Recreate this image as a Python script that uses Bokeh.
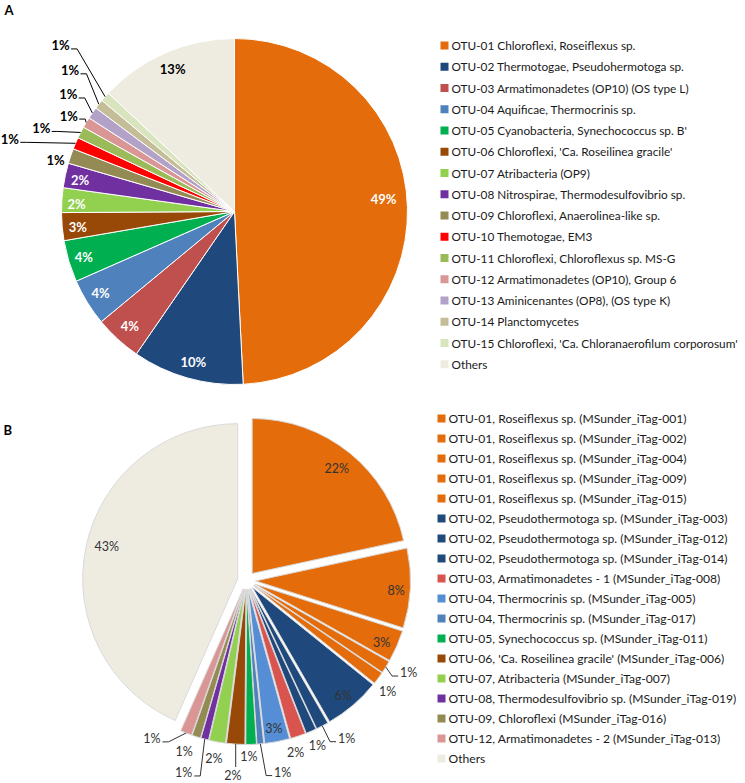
import math
from bokeh.plotting import figure
from bokeh.models import Range1d
from bokeh.core.properties import value
from bokeh.embed import file_html
from bokeh.resources import INLINE

# ---------------- data: panel A ----------------
a_names = [
    "OTU-01  Chloroflexi, Roseiflexus sp.",
    "OTU-02 Thermotogae, Pseudohermotoga sp.",
    "OTU-03 Armatimonadetes (OP10) (OS type L)",
    "OTU-04 Aquificae, Thermocrinis sp.",
    "OTU-05 Cyanobacteria, Synechococcus sp. B'",
    "OTU-06 Chloroflexi, 'Ca. Roseilinea gracile'",
    "OTU-07 Atribacteria (OP9)",
    "OTU-08 Nitrospirae, Thermodesulfovibrio sp.",
    "OTU-09 Chloroflexi, Anaerolinea-like sp.",
    "OTU-10 Themotogae, EM3",
    "OTU-11 Chloroflexi, Chloroflexus sp. MS-G",
    "OTU-12 Armatimonadetes (OP10), Group 6",
    "OTU-13 Aminicenantes (OP8), (OS type K)",
    "OTU-14 Planctomycetes",
    "OTU-15 Chloroflexi, 'Ca. Chloranaerofilum corporosum'",
    "Others",
]
a_values = [49.2, 10.4, 4.4, 4.4, 3.9, 2.6, 2.3, 2.3, 1.4, 1.1, 1.1, 1.0, 1.1, 0.9, 0.9, 13.0]
a_colors = ["#E46C0A", "#1F497D", "#C0504D", "#4F81BD", "#00B050", "#984807",
            "#92D050", "#7030A0", "#948A54", "#FF0000", "#9BBB59", "#D99694",
            "#B3A2C7", "#C4BD97", "#D7E4BD", "#EEECE1"]

# ---------------- data: panel B ----------------
b_names = [
    "OTU-01, Roseiflexus sp. (MSunder_iTag-001)",
    "OTU-01, Roseiflexus sp. (MSunder_iTag-002)",
    "OTU-01, Roseiflexus sp. (MSunder_iTag-004)",
    "OTU-01, Roseiflexus sp. (MSunder_iTag-009)",
    "OTU-01, Roseiflexus sp. (MSunder_iTag-015)",
    "OTU-02, Pseudothermotoga sp. (MSunder_iTag-003)",
    "OTU-02, Pseudothermotoga sp. (MSunder_iTag-012)",
    "OTU-02, Pseudothermotoga sp. (MSunder_iTag-014)",
    "OTU-03, Armatimonadetes - 1 (MSunder_iTag-008)",
    "OTU-04, Thermocrinis sp. (MSunder_iTag-005)",
    "OTU-04, Thermocrinis sp. (MSunder_iTag-017)",
    "OTU-05, Synechococcus sp. (MSunder_iTag-011)",
    "OTU-06, 'Ca. Roseilinea gracile' (MSunder_iTag-006)",
    "OTU-07, Atribacteria (MSunder_iTag-007)",
    "OTU-08, Thermodesulfovibrio sp. (MSunder_iTag-019)",
    "OTU-09, Chloroflexi (MSunder_iTag-016)",
    "OTU-12, Armatimonadetes - 2 (MSunder_iTag-013)",
    "Others",
]
b_values = [21.6, 8.3, 3.3, 1.3, 1.3, 5.9, 1.3, 1.1, 1.6, 2.6, 0.7, 1.1, 1.9, 1.7, 0.8, 0.9, 1.2, 43.4]
b_colors = ["#E46C0A", "#E46C0A", "#E46C0A", "#E46C0A", "#E46C0A",
            "#1F497D", "#1F497D", "#1F497D", "#D9534F", "#558ED5", "#4F81BD",
            "#00B050", "#984807", "#92D050", "#7030A0", "#948A54", "#D99694", "#EEECE1"]

# ---------------- label placement (style) ----------------
# (angle nudge in degrees from slice bisector, distance as fraction of radius, leader line?)
a_lab = [(-3.2, 0.865, 0), (-0.5, 0.90, 0), (0, 0.896, 0), (0.5, 0.905, 0), (0, 0.91, 0),
         (-0.5, 0.91, 0), (-0.9, 0.914, 0), (-0.7, 0.91, 0), (-2.8, 1.076, 0),
         (-5.3, 1.365, 1), (-3.8, 1.217, 1), (-0.9, 1.107, 1), (0.4, 1.175, 1),
         (2.3, 1.253, 1), (2.1, 1.39, 1), (0, 0.90, 0)]
a_lab_white = [1, 1, 1, 1, 1, 1, 1, 1, 0, 0, 0, 0, 0, 0, 0, 0]
b_lab = [(0, 0.87, 0), (1.0, 0.91, 0), (1.0, 0.90, 0), (-2.4, 1.145, 1), (1.7, 1.10, 0),
         (0.5, 0.91, 0), (-5.1, 1.147, 1), (0, 1.10, 0), (2.5, 1.094, 0), (0.4, 0.915, 0),
         (-6.1, 1.20, 1), (0.9, 1.08, 0), (0.2, 1.20, 1), (0.1, 1.11, 0), (3.5, 1.245, 1),
         (2.4, 1.115, 0), (9.8, 1.13, 1), (1.9, 0.87, 0)]

W, H = 745, 783


def Y(img_y):
    return H - img_y


p = figure(width=W, height=H, x_range=Range1d(0, W), y_range=Range1d(0, H),
           output_backend="svg", toolbar_location=None, x_axis_type=None, y_axis_type=None,
           min_border=0, outline_line_color=None)
p.grid.visible = False
p.background_fill_color = "white"
p.border_fill_color = "white"

FONT = value("Lato")


def unit(deg):
    r = math.radians(deg)
    return math.sin(r), math.cos(r)


def draw_pie(cx, cy, r, vals, colors, explode, line_color, labs, lab_colors, lab_bold, lab_size,
             leader_color):
    total = sum(vals)
    c0 = 0.0
    xs, ys, sa, ea, cols = [], [], [], [], []
    lx, ly, lt, lc = [], [], [], []
    leaders_x, leaders_y = [], []
    for i, v in enumerate(vals):
        c1 = c0 + v / total
        mid = (c0 + c1) / 2 * 360.0
        ux, uy = unit(mid)
        ox, oy = cx + explode * ux, cy + explode * uy
        xs.append(ox)
        ys.append(oy)
        sa.append(math.radians(90 - c1 * 360.0))
        ea.append(math.radians(90 - c0 * 360.0))
        cols.append(colors[i])
        nudge, rf, lead = labs[i]
        vx, vy = unit(mid + nudge)
        tx, ty = ox + rf * r * vx, oy + rf * r * vy
        lx.append(tx)
        ly.append(ty)
        lt.append("%d%%" % int(math.floor(v + 0.5)))
        lc.append(lab_colors[i])
        if lead:
            axp, ayp = ox + r * ux, oy + r * uy
            if abs(axp - tx) < 4:
                leaders_x.append([axp, axp])
                leaders_y.append([ayp, ty + 8])
            else:
                side = 1 if axp > tx else -1
                sx = tx + side * 10.5
                lyl = ty - 3.5
                leaders_x.append([sx, sx + side * 6, axp])
                leaders_y.append([lyl, lyl, ayp])
        c0 = c1
    p.wedge(x=xs, y=ys, radius=r, start_angle=sa, end_angle=ea, fill_color=cols,
            line_color=line_color, line_width=1)
    if leaders_x:
        p.multi_line(xs=leaders_x, ys=leaders_y, line_color=leader_color, line_width=1)
    p.text(x=lx, y=ly, text=lt, text_color=lc, text_font=FONT, text_font_size=lab_size,
           text_font_style="bold" if lab_bold else "normal", text_align="center",
           text_baseline="middle")


def draw_legend(x0, y0, step, names, colors, size):
    ys = [Y(y0 + i * step) for i in range(len(names))]
    p.scatter(x=[x0] * len(names), y=ys, marker="square", size=8, fill_color=colors,
              line_color=None)
    p.text(x=[x0 + 7] * len(names), y=ys, text=names, text_font=FONT, text_font_size=size,
           text_color="#1a1a1a", text_align="left", text_baseline="middle")


# Panel A
draw_pie(234, Y(211), 173, a_values, a_colors, 0, "white", a_lab,
         ["white" if w else "black" for w in a_lab_white], True, "13px", "black")
draw_legend(444, 45, 21.25, a_names, a_colors, "11.8px")

# Panel B
draw_pie(246, Y(580), 155, b_values, b_colors, 9, "#D9D9D9", b_lab,
         ["#333333"] * len(b_values), False, "12.5px", "#333333")
draw_legend(441, 418, 20, b_names, b_colors, "12.1px")

# Panel letters
p.text(x=[4, 3], y=[Y(9), Y(429)], text=["A", "B"], text_font=FONT, text_font_size="13px",
       text_font_style="bold", text_color="black", text_align="left", text_baseline="middle")

open("out.html", "w").write(file_html(p, INLINE))
